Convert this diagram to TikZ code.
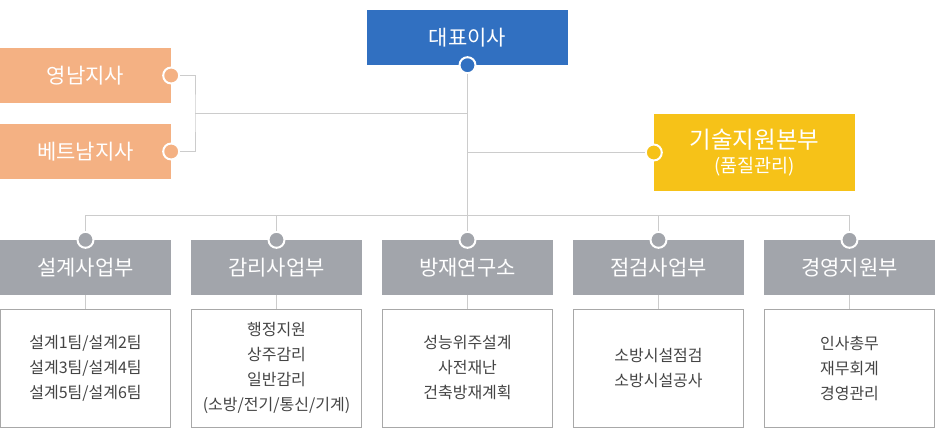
\documentclass[tikz,border=0pt]{standalone}
\usepackage{fontspec}
\setmainfont{Noto Sans CJK KR}
\definecolor{ceoblue}{HTML}{3170C1}
\definecolor{peach}{HTML}{F4B183}
\definecolor{techgold}{HTML}{F6C218}
\definecolor{deptgray}{HTML}{A2A5AB}
\definecolor{linegray}{HTML}{CCCCCC}
\definecolor{boxgray}{HTML}{A8A8A8}
\definecolor{txtgray}{HTML}{444444}
\tikzset{
  solidbox/.style={rectangle,inner sep=0pt,text=white,font=\fontsize{21}{24}\selectfont},
  ceobox/.style={solidbox,fill=ceoblue,minimum width=201pt,minimum height=55pt},
  branchbox/.style={solidbox,fill=peach,minimum width=171pt,minimum height=55pt},
  techbox/.style={solidbox,fill=techgold,minimum width=201pt,minimum height=77pt,align=center,font=\fontsize{23.5}{26}\selectfont},
  deptbox/.style={solidbox,fill=deptgray,minimum width=171pt,minimum height=55pt},
  listbox/.style={rectangle,draw=boxgray,line width=1pt,minimum width=170pt,minimum height=118pt,align=center,text=txtgray,font=\fontsize{16}{25}\selectfont},
  dot/.style={circle,draw=white,line width=2pt,minimum size=16pt,inner sep=0pt},
  conn/.style={draw=linegray,line width=1pt}
}
\begin{document}
\begin{tikzpicture}[x=1pt,y=-1pt]
  \useasboundingbox (0,0) rectangle (935,428);
  \node[ceobox] (ceo) at (467.5,37.5) {대표이사};
  \node[branchbox] (yn) at (85.5,75.5) {영남지사};
  \node[branchbox] (vn) at (85.5,151.5) {베트남지사};
  \node[techbox] (tech) at (754.5,152.5) {기술지원본부\\[-2pt]{\fontsize{18.5}{20}\selectfont (품질관리)}};
  \foreach \i/\t in {1/설계사업부,2/감리사업부,3/방재연구소,4/점검사업부,5/경영지원부}
    \node[deptbox] (d\i) at ({85.5+191*(\i-1)},267.5) {\t};
  \foreach \i/\t in {1/{설계1팀/설계2팀\\설계3팀/설계4팀\\설계5팀/설계6팀},
                     2/{행정지원\\상주감리\\일반감리\\(소방/전기/통신/기계)},
                     3/{성능위주설계\\사전재난\\건축방재계획},
                     4/{소방시설점검\\소방시설공사},
                     5/{인사총무\\재무회계\\경영관리}}
    \node[listbox] (l\i) at ({85.5+191*(\i-1)},368) {\t};
  \node[dot,fill=ceoblue] (ceodot) at (ceo.south) {};
  \node[dot,fill=peach] (yndot) at (yn.east) {};
  \node[dot,fill=peach] (vndot) at (vn.east) {};
  \node[dot,fill=techgold] (techdot) at (tech.west) {};
  \foreach \i in {1,...,5}
    \node[dot,fill=deptgray] (dd\i) at (d\i.north) {};
  \coordinate (brj) at (195,113);
  \coordinate (bus) at (467.5,215);
  \draw[conn] (ceodot) -- (bus);
  \draw[conn] (yndot) -| (brj) |- (vndot);
  \draw[conn] (brj) -- (brj -| ceodot);
  \draw[conn] (techdot) -- (techdot -| ceodot);
  \draw[conn] (dd1 |- bus) -- (dd5 |- bus);
  \foreach \i in {1,...,5} {
    \draw[conn] (dd\i |- bus) -- (dd\i);
    \draw[conn] (d\i) -- (l\i);
  }
\end{tikzpicture}
\end{document}
